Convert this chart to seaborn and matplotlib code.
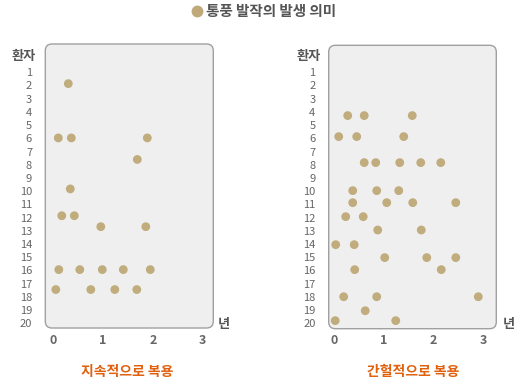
import matplotlib
matplotlib.use("Agg")
import matplotlib.pyplot as plt
from matplotlib.patches import FancyBboxPatch
from matplotlib.lines import Line2D
import seaborn as sns
import pandas as pd

# données (années, rang du patient)
title = "통풍 발작의 발생 의미"
left_title = "지속적으로 복용"
right_title = "간헐적으로 복용"
patient_ticks = list(range(1, 21))
year_ticks = [0, 1, 2, 3]

left_years = [0.31, 0.11, 0.37, 1.89, 1.69, 0.35, 0.18, 0.43, 0.96, 1.86,
              0.12, 0.54, 0.99, 1.41, 1.95, 0.06, 0.76, 1.24, 1.68]
left_rows = [1.86, 5.97, 5.97, 5.97, 7.6, 9.83, 11.86, 11.86, 12.69, 12.69,
             15.94, 15.94, 15.94, 15.94, 15.94, 17.45, 17.45, 17.45, 17.45]

right_years = [0.28, 0.61, 1.57, 0.10, 0.46, 1.40, 0.61, 0.84, 1.32, 1.74,
               2.14, 0.38, 0.86, 1.30, 0.38, 1.06, 1.58, 2.44, 0.24, 0.59,
               0.88, 1.75, 0.04, 0.41, 1.02, 1.86, 2.44, 0.42, 2.15, 0.20,
               0.86, 2.89, 0.63, 0.03, 1.24]
right_rows = [4.28, 4.28, 4.28, 5.87, 5.87, 5.87, 7.84, 7.84, 7.84, 7.84,
              7.84, 9.96, 9.96, 9.96, 10.87, 10.87, 10.87, 10.87, 11.93, 11.93,
              12.94, 12.94, 14.05, 14.05, 15.03, 15.03, 15.03, 15.94, 15.94, 17.99,
              17.99, 17.99, 19.05, 19.8, 19.8]

W, H = 525, 388
dot_color = "#c0ac7c"
text_gray = "#555555"
tick_gray = "#666666"
orange = "#e0600e"

sns.set_style("white")
plt.rcParams["font.family"] = ["Noto Sans CJK KR", "DejaVu Sans"]

fig = plt.figure(figsize=(W / 100, H / 100), dpi=100)


def px(x, y):
    return x / W, 1 - y / H


def panel(rect, xlim, ylim, years, rows):
    ax = fig.add_axes(rect)
    df = pd.DataFrame({"year": years, "patient": rows})
    box = FancyBboxPatch((0, 0), 1, 1, boxstyle="round,pad=0,rounding_size=0.04",
                         mutation_aspect=rect[2] * W / (rect[3] * H),
                         transform=ax.transAxes, facecolor="#efefef",
                         edgecolor="#a0a0a0", linewidth=1.0, zorder=0, clip_on=False)
    ax.add_patch(box)
    sns.scatterplot(data=df, x="year", y="patient", ax=ax, color=dot_color,
                    s=40, edgecolor="none", zorder=3, clip_on=False)
    ax.set_facecolor("none")
    for sp in ax.spines.values():
        sp.set_visible(False)
    ax.set_xlim(*xlim)
    ax.set_ylim(*ylim)
    ax.set_xticks(year_ticks)
    ax.set_yticks(patient_ticks)
    ax.set_xticklabels([str(t) for t in year_ticks], fontsize=9, color=tick_gray,
                       fontweight="bold")
    ax.set_yticklabels([str(t) for t in patient_ticks], fontsize=8, color=tick_gray)
    ax.tick_params(axis="y", length=0, pad=9.5)
    ax.tick_params(axis="x", length=0, pad=4)
    ax.set_xlabel("")
    ax.set_ylabel("")
    return ax


panel([45.3 / W, (H - 328) / H, 168 / W, 284 / H], (-0.15, 3.21), (20.36, -1.14),
      left_years, left_rows)
panel([328.7 / W, (H - 328.7) / H, 167.6 / W, 283.4 / H], (-0.10, 3.25), (20.41, -1.04),
      right_years, right_rows)

# titre et légende
fig.add_artist(Line2D([197 / W], [1 - 11 / H], marker="o", markersize=7.5,
                      color="#bfa97a", transform=fig.transFigure))
fig.text(*px(206, 11), title, ha="left", va="center", fontsize=10.5,
         fontweight="bold", color=text_gray)

# étiquettes des axes
for x in (24, 309):
    fig.text(*px(x, 56), "환자", ha="center", va="center", fontsize=9.5,
             fontweight="bold", color=text_gray)
for x in (224, 509):
    fig.text(*px(x, 324), "년", ha="center", va="center", fontsize=9.5,
             fontweight="bold", color=text_gray)

fig.text(*px(127, 372), left_title, ha="center", va="center", fontsize=10,
         fontweight="bold", color=orange)
fig.text(*px(413, 372), right_title, ha="center", va="center", fontsize=10,
         fontweight="bold", color=orange)

fig.savefig("out.png", dpi=100)
